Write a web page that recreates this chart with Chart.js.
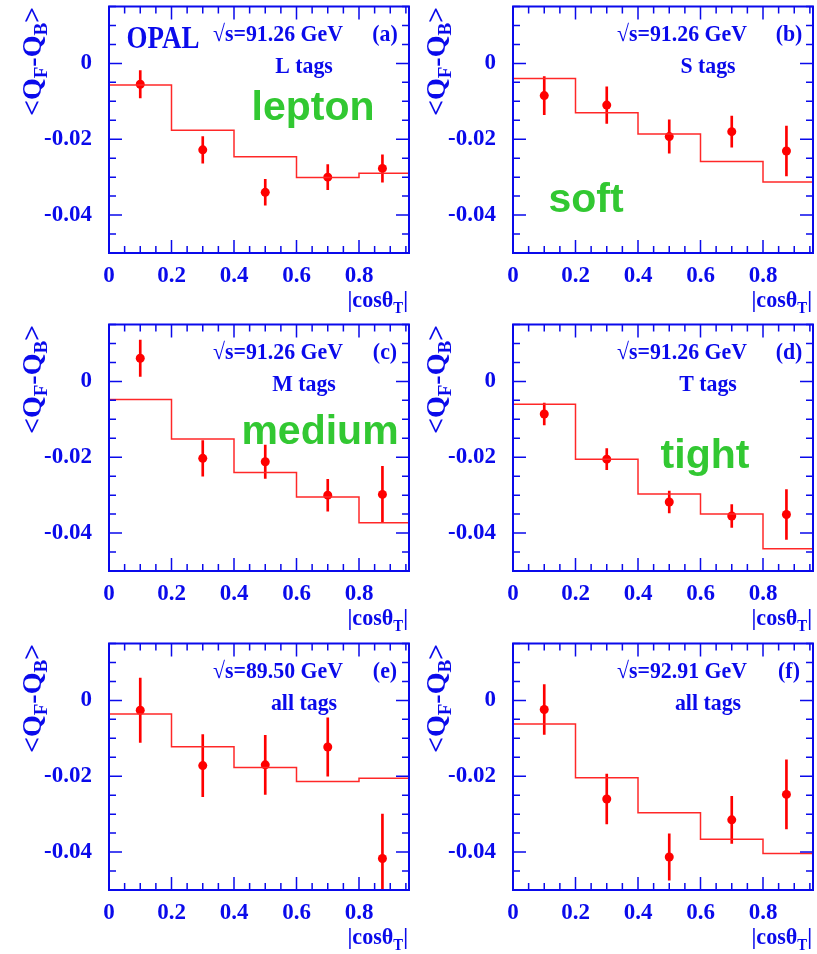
<!DOCTYPE html>
<html>
<head>
<meta charset="utf-8">
<script src="https://cdn.jsdelivr.net/npm/chart.js@4.4.1/dist/chart.umd.min.js"></script>
<style>
  body { margin: 0; background: #fff; width: 817px; height: 954px; overflow: hidden; position: relative; }
  .panel { position: absolute; width: 410px; height: 318px; }
</style>
</head>
<body>
<div class="panel" style="left:0;top:0"><canvas id="pa" width="410" height="318"></canvas></div>
<div class="panel" style="left:404px;top:0"><canvas id="pb" width="410" height="318"></canvas></div>
<div class="panel" style="left:0;top:318px"><canvas id="pc" width="410" height="318"></canvas></div>
<div class="panel" style="left:404px;top:318px"><canvas id="pd" width="410" height="318"></canvas></div>
<div class="panel" style="left:0;top:637px"><canvas id="pe" width="410" height="318"></canvas></div>
<div class="panel" style="left:404px;top:637px"><canvas id="pf" width="410" height="318"></canvas></div>
<script>
// bins en |cos theta_T|
const binEdges = [0, 0.2, 0.4, 0.6, 0.8, 0.96];
const pointX = [0.1, 0.3, 0.5, 0.7, 0.875];
const xTicks = [0, 0.2, 0.4, 0.6, 0.8];
const xTickLabels = ["0", "0.2", "0.4", "0.6", "0.8"];
const yTicks = [0, -0.02, -0.04];
const yTickLabels = ["0", "-0.02", "-0.04"];

// (a) L tags, 91.26 GeV
const lPoints = [-0.0055, -0.0228, -0.0340, -0.0300, -0.0277];
const lErrors = [0.0036, 0.0035, 0.0034, 0.0033, 0.0036];
const lHist = [-0.0057, -0.0176, -0.0246, -0.0301, -0.0290];

// (b) S tags, 91.26 GeV
const sPoints = [-0.0085, -0.0110, -0.0193, -0.0180, -0.0231];
const sErrors = [0.0050, 0.0048, 0.0044, 0.0041, 0.0066];
const sHist = [-0.0040, -0.0130, -0.0186, -0.0259, -0.0313];

// (c) M tags, 91.26 GeV
const mPoints = [0.0061, -0.0203, -0.0212, -0.0300, -0.0298];
const mErrors = [0.0048, 0.0047, 0.0044, 0.0042, 0.0074];
const mHist = [-0.0048, -0.0152, -0.0240, -0.0305, -0.0373];

// (d) T tags, 91.26 GeV
const tPoints = [-0.0086, -0.0205, -0.0318, -0.0355, -0.0351];
const tErrors = [0.0029, 0.0028, 0.0029, 0.0030, 0.0066];
const tHist = [-0.0060, -0.0205, -0.0297, -0.0350, -0.0441];

// (e) all tags, 89.50 GeV
const ePoints = [-0.0026, -0.0172, -0.0170, -0.0123, -0.0417];
const eErrors = [0.0085, 0.0082, 0.0078, 0.0077, 0.0117];
const eHist = [-0.0036, -0.0122, -0.0177, -0.0214, -0.0205];

// (f) all tags, 92.91 GeV
const fPoints = [-0.0024, -0.0260, -0.0413, -0.0315, -0.0248];
const fErrors = [0.0066, 0.0066, 0.0061, 0.0062, 0.0091];
const fHist = [-0.0062, -0.0204, -0.0296, -0.0366, -0.0404];

const BLUE = "rgb(10,10,235)";
const RED = "rgb(255,0,0)";
const GREEN = "rgb(50,200,50)";
const SERIF = '"Liberation Serif", "Times New Roman", serif';
const SANS = '"Liberation Sans", Arial, sans-serif';

// Paneles: datos + textos (posiciones relativas al área del gráfico)
const panels = [
    { id: "pa", points: lPoints, errors: lErrors, hist: lHist, energy: "√s=91.26 GeV", letter: "(a)", tag: "L tags", word: "lepton", wordX: 204, wordY: 113.5, opal: true },
    { id: "pb", points: sPoints, errors: sErrors, hist: sHist, energy: "√s=91.26 GeV", letter: "(b)", tag: "S tags", word: "soft", wordX: 73, wordY: 205.5 },
    { id: "pc", points: mPoints, errors: mErrors, hist: mHist, energy: "√s=91.26 GeV", letter: "(c)", tag: "M tags", word: "medium", wordX: 211, wordY: 119 },
    { id: "pd", points: tPoints, errors: tErrors, hist: tHist, energy: "√s=91.26 GeV", letter: "(d)", tag: "T tags", word: "tight", wordX: 192, wordY: 143 },
    { id: "pe", points: ePoints, errors: eErrors, hist: eHist, energy: "√s=89.50 GeV", letter: "(e)", tag: "all tags" },
    { id: "pf", points: fPoints, errors: fErrors, hist: fHist, energy: "√s=92.91 GeV", letter: "(f)", tag: "all tags" }
];

// texto con escala horizontal (fuente ROOT algo condensada)
function drawText(ctx, text, x, y, font, color, align, sx) {
    ctx.save();
    ctx.font = font;
    ctx.fillStyle = color;
    ctx.textBaseline = "alphabetic";
    ctx.textAlign = align || "center";
    ctx.translate(x, y);
    ctx.scale(sx || 1, 1);
    ctx.fillText(text, 0, 0);
    ctx.restore();
}

// piezas de texto con subíndices, dibujadas de izquierda a derecha
function drawPieces(ctx, pieces, x, y) {
    let cx = x;
    pieces.forEach(p => {
        ctx.font = p.font;
        ctx.fillText(p.t, cx, y + (p.dy || 0));
        cx += ctx.measureText(p.t).width;
    });
    return cx - x;
}
function piecesWidth(ctx, pieces) {
    let w = 0;
    pieces.forEach(p => { ctx.font = p.font; w += ctx.measureText(p.t).width; });
    return w;
}

const framePlugin = {
    id: "opalFrame",
    afterDraw(chart, args, opts) {
        const ctx = chart.ctx;
        const area = chart.chartArea;
        const xs = chart.scales.x;
        const ys = chart.scales.y;
        const p = opts.panel;

        ctx.save();
        ctx.strokeStyle = BLUE;
        ctx.lineWidth = 2;
        ctx.strokeRect(area.left, area.top, area.right - area.left, area.bottom - area.top);

        // marcas mayores y menores en los cuatro lados
        ctx.lineWidth = 1.5;
        ctx.beginPath();
        for (let i = 0; i <= 19; i++) {
            const v = i * 0.05;
            if (v > xs.max) break;
            const px = xs.getPixelForValue(v);
            const len = (i % 4 === 0) ? 13 : 7;
            ctx.moveTo(px, area.bottom); ctx.lineTo(px, area.bottom - len);
            ctx.moveTo(px, area.top); ctx.lineTo(px, area.top + len);
        }
        for (let i = -10; i <= 3; i++) {
            const v = i * 0.005;
            const py = ys.getPixelForValue(v);
            const len = (i % 4 === 0) ? 13 : 7;
            ctx.moveTo(area.left, py); ctx.lineTo(area.left + len, py);
            ctx.moveTo(area.right, py); ctx.lineTo(area.right - len, py);
        }
        ctx.stroke();
        ctx.restore();

        // textos dentro del panel
        const L = area.left, T = area.top;
        drawText(ctx, p.energy, L + 169, T + 34.5, "bold 23px " + SERIF, BLUE, "center", 0.95);
        drawText(ctx, p.letter, L + 276, T + 34.5, "bold 23px " + SERIF, BLUE, "center", 0.95);
        drawText(ctx, p.tag, L + 195, T + 66, "bold 23px " + SERIF, BLUE, "center", 0.95);
        if (p.opal) drawText(ctx, "OPAL", L + 54, T + 41.5, "bold 31px " + SERIF, BLUE, "center", 0.87);
        if (p.word) drawText(ctx, p.word, L + p.wordX, T + p.wordY, "bold 41px " + SANS, GREEN, "center", 1);

        // título eje x: |cosθ_T|
        ctx.save();
        ctx.fillStyle = BLUE;
        ctx.textBaseline = "alphabetic";
        ctx.textAlign = "left";
        const big = "bold 24px " + SERIF, small = "bold 16px " + SERIF;
        const xt = [{ t: "|cosθ", font: big }, { t: "T", font: small, dy: 6 }, { t: "|", font: big }];
        const xw = piecesWidth(ctx, xt);
        ctx.translate(area.right - 1, area.bottom + 54);
        ctx.scale(0.92, 1);
        drawPieces(ctx, xt, -xw, 0);
        ctx.restore();

        // título eje y: <Q_F-Q_B>
        ctx.save();
        ctx.fillStyle = BLUE;
        ctx.textBaseline = "alphabetic";
        ctx.textAlign = "left";
        const yb = "bold 28px " + SERIF, ysm = "bold 19px " + SERIF;
        const yt = [{ t: "<Q", font: yb }, { t: "F", font: ysm, dy: 6 }, { t: "-Q", font: yb }, { t: "B", font: ysm, dy: 6 }, { t: ">", font: yb }];
        const yw = piecesWidth(ctx, yt);
        ctx.translate(41, T + 55);
        ctx.rotate(-Math.PI / 2);
        drawPieces(ctx, yt, -yw / 2, 0);
        ctx.restore();
    }
};

function buildChart(p) {
    const histData = binEdges.map((e, i) => ({ x: e, y: p.hist[Math.min(i, p.hist.length - 1)] }));
    const pointData = pointX.map((x, i) => ({ x: x, y: p.points[i] }));
    const errData = pointX.map((x, i) => ({ x: x, y: [p.points[i] - p.errors[i], p.points[i] + p.errors[i]] }));

    new Chart(document.getElementById(p.id), {
        type: "scatter",
        data: {
            datasets: [
                {
                    type: "line",
                    data: histData,
                    stepped: true,
                    borderColor: "rgb(255,40,40)",
                    borderWidth: 1.5,
                    pointRadius: 0,
                    fill: false
                },
                {
                    type: "bar",
                    data: errData,
                    backgroundColor: RED,
                    borderWidth: 0,
                    barThickness: 2,
                    grouped: false
                },
                {
                    data: pointData,
                    backgroundColor: RED,
                    borderWidth: 0,
                    pointRadius: 4.5
                }
            ]
        },
        options: {
            responsive: false,
            animation: false,
            events: [],
            layout: { autoPadding: false, padding: { top: 6.5, right: 1, bottom: 0, left: 0 } },
            plugins: {
                legend: { display: false },
                tooltip: { enabled: false },
                opalFrame: { panel: p }
            },
            scales: {
                x: {
                    type: "linear",
                    min: 0,
                    max: 0.96,
                    offset: false,
                    grid: { display: false, drawTicks: false, offset: false },
                    border: { display: false },
                    afterFit: s => { s.height = 65; s.paddingLeft = 0; s.paddingRight = 0; },
                    afterBuildTicks: s => { s.ticks = xTicks.map(v => ({ value: v })); },
                    ticks: {
                        padding: 9,
                        color: BLUE,
                        font: { family: SERIF, size: 23, weight: "bold" },
                        callback: (v, i) => xTickLabels[i]
                    }
                },
                y: {
                    type: "linear",
                    min: -0.05,
                    max: 0.015,
                    grid: { display: false, drawTicks: false },
                    border: { display: false },
                    afterFit: s => { s.width = 109; s.paddingTop = 0; s.paddingBottom = 0; },
                    afterBuildTicks: s => { s.ticks = yTicks.map(v => ({ value: v })); },
                    ticks: {
                        padding: 17,
                        color: BLUE,
                        font: { family: SERIF, size: 23, weight: "bold" },
                        callback: (v, i) => yTickLabels[i]
                    }
                }
            }
        },
        plugins: [framePlugin]
    });
}

panels.forEach(buildChart);
</script>
</body>
</html>
